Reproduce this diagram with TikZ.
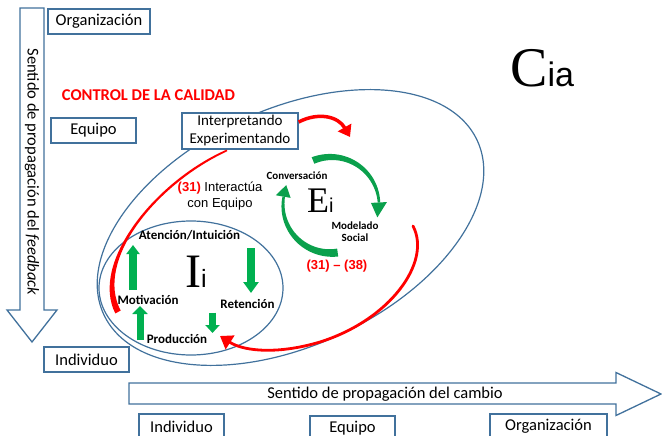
\documentclass[tikz,border=0pt]{standalone}
\usepackage{fontspec}
\setmainfont{Carlito}
\newfontfamily\arialf{Liberation Sans}
\newfontfamily\timesf{Liberation Serif}
\usetikzlibrary{arrows.meta}
\definecolor{boxblue}{HTML}{41719C}
\definecolor{rred}{HTML}{FF0000}
\definecolor{ggreen}{HTML}{00B050}
\definecolor{dgreen}{HTML}{0AA04C}
\begin{document}
\begin{tikzpicture}[x=1pt,y=-1pt,
  lbox/.style={draw=boxblue, line width=1.3pt, fill=white, inner sep=0pt, align=center,
               font=\fontsize{16.5}{18}\selectfont, minimum height=25pt},
  bigarrow/.style={draw=boxblue, line width=1.3pt, fill=white, line join=miter},
  ell/.style={draw=boxblue, line width=1.2pt},
  redline/.style={draw=rred, line width=3pt},
  lbl/.style={font=\bfseries\fontsize{13}{13}\selectfont, inner sep=0pt},
  slbl/.style={font=\bfseries\fontsize{11}{12}\selectfont, inner sep=0pt, align=center},
  blockup/.style={draw=ggreen, line cap=butt}
]
\useasboundingbox (0,0) rectangle (662,436);

% big direction arrows
\draw[bigarrow] (20,8) -- (44,8) -- (44,310) -- (57,310) -- (32,342) -- (7,310) -- (20,310) -- cycle;
\node[rotate=-90, inner sep=0, font=\fontsize{16.5}{18}\selectfont] (vtext) at (32,172) {Sentido de propagación del \textit{feedback}};
\draw[bigarrow] (129,383) -- (616,383) -- (616,372.5) -- (661,394) -- (616,415.5) -- (616,404) -- (129,404) -- cycle;
\node[inner sep=0, font=\fontsize{16.5}{18}\selectfont] (htext) at (385,394) {Sentido de propagación del cambio};

% level boxes
\node[lbox, minimum width=102pt] (org1) at (99,21.5) {Organización};
\node[lbox, minimum width=85pt] (eq1) at (93.5,130.5) {Equipo};
\node[lbox, minimum width=85pt] (ind1) at (86.5,359.5) {Individuo};
\node[lbox, minimum width=85pt] (ind2) at (181.5,426.5) {Individuo};
\node[lbox, minimum width=85pt] (eq2) at (352.5,428.5) {Equipo};
\node[lbox, minimum width=117pt] (org2) at (548.5,426.5) {Organización};

\node[inner sep=0, text=rred, font=\bfseries\fontsize{16.5}{18}\selectfont] (ctrl) at (148.5,95) {CONTROL DE LA CALIDAD};

% ellipses
\draw[ell, rotate around={25:(290.5,227.5)}] (290.5,227.5) ellipse [x radius=206, y radius=118];
\draw[ell] (191,288) ellipse [x radius=92, y radius=67];

% Interpretando box
\node[lbox, minimum width=116pt, minimum height=36pt, font=\fontsize{15}{18}\selectfont] (interp) at (240,131) {Interpretando\\Experimentando};

% big C
\node[anchor=base west, inner sep=0] (cia) at (510,87) {{\timesf\fontsize{56}{56}\selectfont C}{\arialf\fontsize{34}{34}\selectfont ia}};

% red arrows
\draw[redline, line width=3.5pt, -{Triangle[width=15pt,length=11pt]}] ([yshift=9pt]interp.east) .. controls (318,112) and (338,116) .. (350,137);
\coordinate (rstart) at (413,226);
\coordinate (rtip) at (220,336);
\draw[redline, line width=2.8pt, line cap=round, -{Triangle[width=16pt,length=12pt]}] (rstart) .. controls (432,262) and (390,320) .. (320,342) .. controls (280,354) and (245,352) .. (rtip);
\fill[rred] ([xshift=-13.4pt]interp.south) .. controls (154.3,181.5) and (89.8,263.2) .. (115.3,313.4)
   -- (120.7,310.6) .. controls (94.2,260.8) and (155.7,184.5) .. ([xshift=-12.6pt,yshift=-1.5pt]interp.south) -- cycle;

% labels
\node[inner sep=0, font=\arialf\fontsize{13}{15.5}\selectfont, align=center] (inter) at (220,196) {\textcolor{rred}{\bfseries(31)} Interactúa\\con Equipo};
\node[inner sep=0, text=rred, font=\arialf\bfseries\fontsize{13}{13}\selectfont] (rng) at (337,266) {(31) – (38)};

% Ei cycle
\node[slbl] (conv) at (297,176) {Conversación};
\node[slbl] (mod) at (355,232) {Modelado\\Social};
\node[anchor=base west, inner sep=0] (ei) at (307,212) {{\timesf\fontsize{36}{36}\selectfont E}{\arialf\fontsize{20}{20}\selectfont i}};
\begin{scope}[shift={(331,205)}]
\fill[dgreen] plot[domain=248:357, samples=40, variable=\t] ({(48+(7-4.5*(\t-248)/109)/2)*cos(\t)}, {(48+(7-4.5*(\t-248)/109)/2)*sin(\t)})
   -- plot[domain=357:248, samples=40, variable=\t] ({(48-(7-4.5*(\t-248)/109)/2)*cos(\t)}, {(48-(7-4.5*(\t-248)/109)/2)*sin(\t)}) -- cycle;
\fill[dgreen] (357:40) -- (15:48) -- (357:56) -- cycle;
\fill[dgreen] plot[domain=82:190, samples=40, variable=\t] ({(48+(8-5.5*(\t-82)/108)/2)*cos(\t)}, {(48+(8-5.5*(\t-82)/108)/2)*sin(\t)})
   -- plot[domain=190:82, samples=40, variable=\t] ({(48-(8-5.5*(\t-82)/108)/2)*cos(\t)}, {(48-(8-5.5*(\t-82)/108)/2)*sin(\t)}) -- cycle;
\fill[dgreen] (190:41) -- (204:49) -- (190:56) -- cycle;
\end{scope}

% Ii cycle
\node[lbl] (aten) at (189.5,235) {Atención/Intuición};
\node[lbl] (moti) at (148,300) {Motivación};
\node[lbl] (rete) at (247.5,304) {Retención};
\node[lbl] (prod) at (177,339) {Producción};
\node[anchor=base west, inner sep=0] (ii) at (185,287) {{\timesf\fontsize{48}{48}\selectfont I}{\arialf\fontsize{25}{25}\selectfont i}};
\coordinate (g1a) at (133,290); \coordinate (g1b) at (133,245);
\coordinate (g2a) at (251,248); \coordinate (g2b) at (251,293);
\coordinate (g3a) at (140,340); \coordinate (g3b) at (140,306);
\coordinate (g4a) at (212.5,312.5); \coordinate (g4b) at (212.5,333);
\draw[blockup, line width=7.5pt, -{Triangle[width=13pt,length=9pt]}] (g1a) -- (g1b);
\draw[blockup, line width=8pt, -{Triangle[width=15pt,length=11pt]}] (g2a) -- (g2b);
\draw[blockup, line width=7pt, -{Triangle[width=15pt,length=8pt]}] (g3a) -- (g3b);
\draw[blockup, line width=7pt, -{Triangle[width=14pt,length=8pt]}] (g4a) -- (g4b);
\end{tikzpicture}
\end{document}
